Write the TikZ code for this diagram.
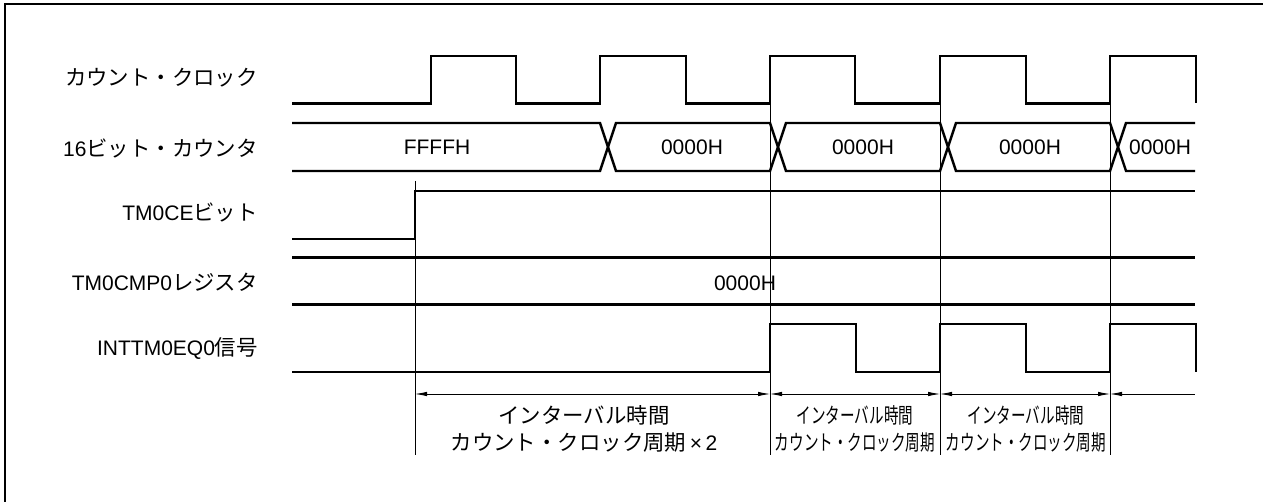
\documentclass[tikz,border=0pt]{standalone}
\usepackage{fontspec}
\setmainfont{Liberation Sans}
\newfontfamily\jp{Noto Sans CJK JP}[Scale=1.02]
\usetikzlibrary{arrows.meta}
\begin{document}
\begin{tikzpicture}[x=1pt,y=-1pt,
  sig/.style={line width=2.4pt},
  guide/.style={line width=0.8pt},
  frameline/.style={line width=2.2pt},
  dim/.style={line width=0.8pt},
  tip/.tip={Latex[length=12pt,width=4.5pt]},
  lbl/.style={anchor=east,inner sep=0pt,font=\fontsize{21}{24}\selectfont},
  val/.style={inner sep=0pt,font=\fontsize{21}{24}\selectfont},
  note/.style={inner sep=0pt,align=center,font=\fontsize{21}{27}\selectfont}]
\useasboundingbox (0,0) rectangle (1263,502);
% frame
\draw[frameline] (5,502) -- (5,4) -- (1263,4);
% labels
\node[lbl] (lclk) at (258,78) {\jp カウント・クロック};
\node[lbl] (lcnt) at (258,148) {16{\jp ビット・カウンタ}};
\node[lbl] (lce) at (258,212) {TM0CE{\jp ビット}};
\node[lbl] (lcmp) at (258,282) {TM0CMP0{\jp レジスタ}};
\node[lbl] (lint) at (258,349) {INTTM0EQ0{\jp 信号}};
% guide lines
\draw[guide] (415,181) -- (415,455);
\draw[guide] (770,103.5) -- (770,455);
\draw[guide] (940,103.5) -- (940,455);
\draw[guide] (1110,103.5) -- (1110,455);
% count clock
\draw[sig] (292,103.5) -- (431,103.5) -- (431,56) -- (516,56) -- (516,103.5)
  -- (600,103.5) -- (600,56) -- (686,56) -- (686,103.5)
  -- (770,103.5) -- (770,56) -- (855,56) -- (855,103.5)
  -- (940,103.5) -- (940,56) -- (1026,56) -- (1026,103.5)
  -- (1110,103.5) -- (1110,56) -- (1196,56) -- (1196,103.5);
% 16-bit counter
\draw[sig] (292,123) -- (600,123) -- (616,171) -- (770,171) -- (786,123) -- (940,123)
  -- (956,171) -- (1110,171) -- (1126,123) -- (1195,123);
\draw[sig] (292,171) -- (600,171) -- (616,123) -- (770,123) -- (786,171) -- (940,171)
  -- (956,123) -- (1110,123) -- (1126,171) -- (1195,171);
\node[val] (v0) at (437,147) {FFFFH};
\node[val] (v1) at (692,147) {0000H};
\node[val] (v2) at (863,147) {0000H};
\node[val] (v3) at (1030,147) {0000H};
\node[val] (v4) at (1160,147) {0000H};
% TM0CE
\draw[sig] (292,239) -- (415,239) -- (415,191) -- (1195,191);
% TM0CMP0
\draw[sig] (292,257.5) -- (1195,257.5);
\draw[sig] (292,304.5) -- (1195,304.5);
\node[val] (vc) at (745,283) {0000H};
% INTTM0EQ0
\draw[sig] (292,372) -- (770,372) -- (770,324) -- (856,324) -- (856,372)
  -- (940,372) -- (940,324) -- (1026,324) -- (1026,372)
  -- (1110,372) -- (1110,324) -- (1196,324) -- (1196,372);
% dimension arrows
\coordinate (a0) at (415,394);
\coordinate (a1) at (770,394);
\coordinate (a2) at (940,394);
\coordinate (a3) at (1110,394);
\coordinate (a4) at (1195,394);
\draw[dim,{tip}-{tip}] (a0) -- (a1);
\draw[dim,{tip}-{tip}] (a1) -- (a2);
\draw[dim,{tip}-{tip}] (a2) -- (a3);
\draw[dim,{tip}-] (a3) -- (a4);
% notes
\node[note] (n1) at (584,429) {\jp インターバル時間\\{\jp カウント・クロック周期}\,×\,2};
\node[note] (n2) at (855,429) {\scalebox{0.68}[1]{\jp インターバル時間}\\\scalebox{0.68}[1]{\jp カウント・クロック周期}};
\node[note] (n3) at (1026,429) {\scalebox{0.68}[1]{\jp インターバル時間}\\\scalebox{0.68}[1]{\jp カウント・クロック周期}};
\end{tikzpicture}
\end{document}
